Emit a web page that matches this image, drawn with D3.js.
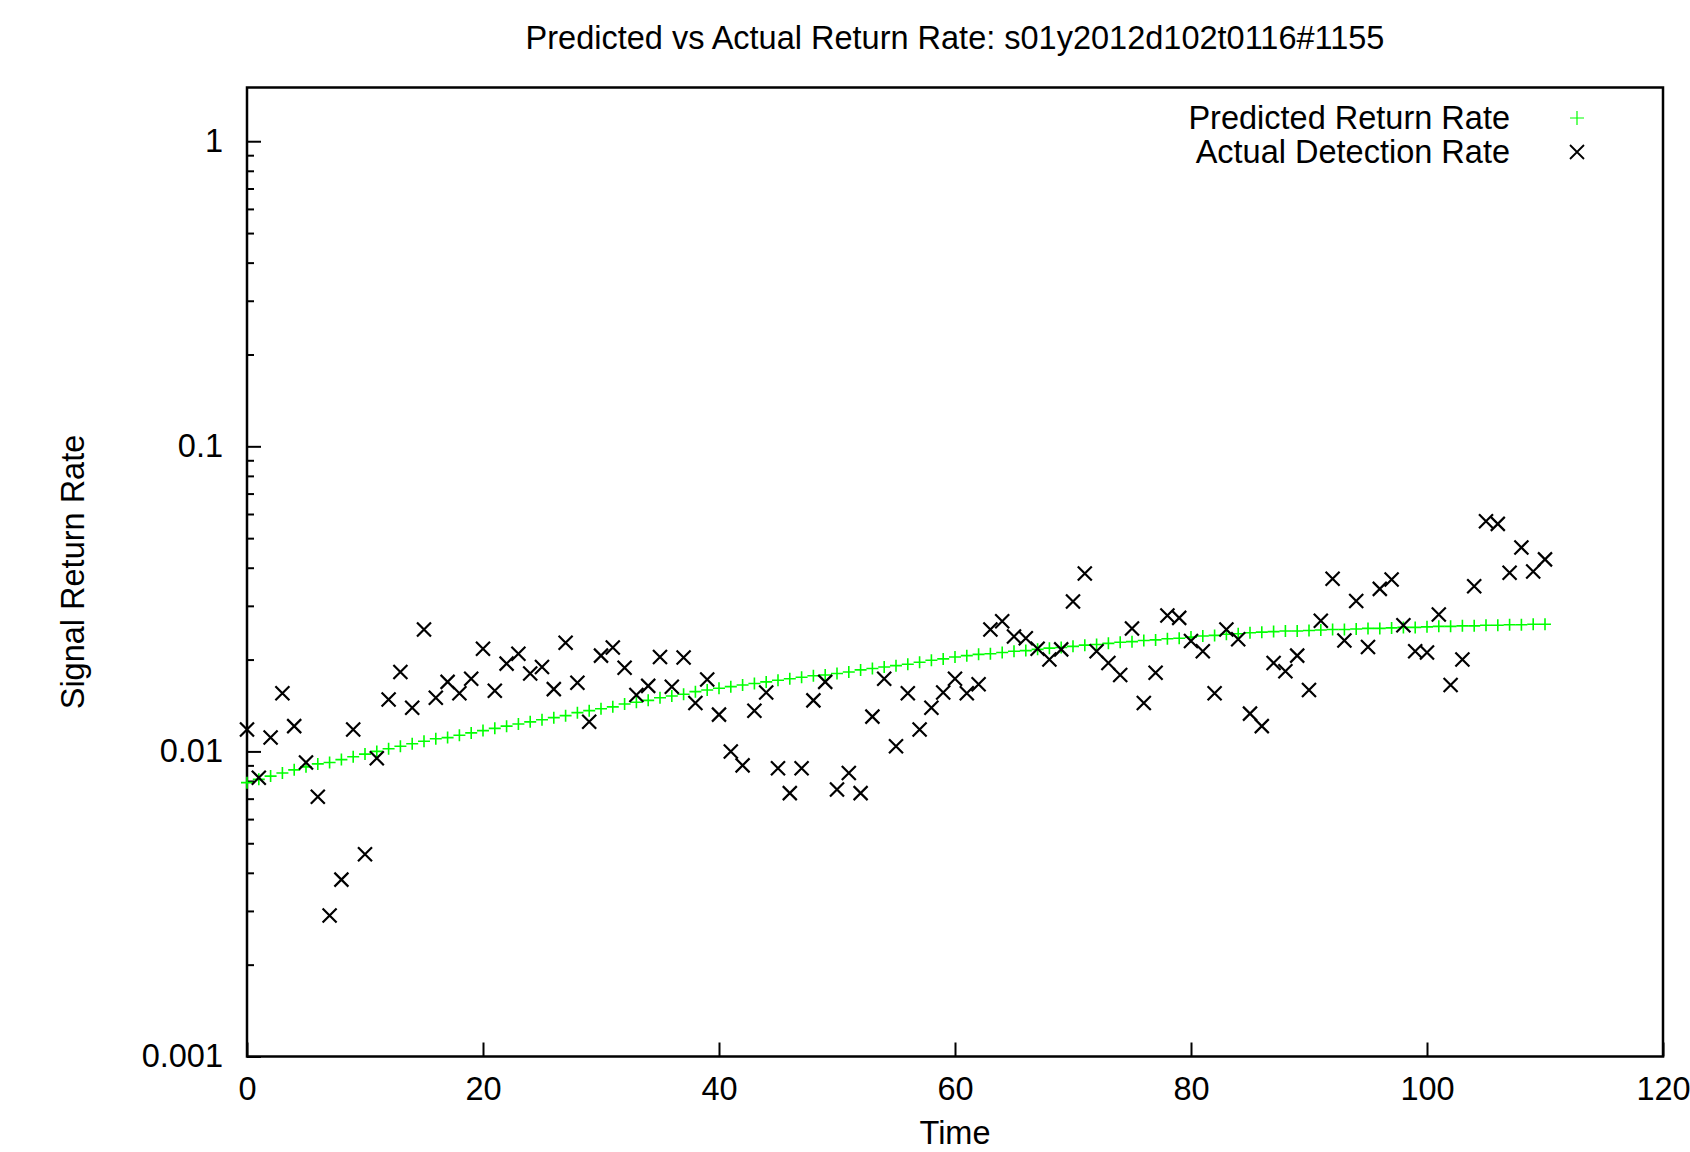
<!DOCTYPE html>
<html>
<head>
<meta charset="utf-8">
<script src="https://cdn.jsdelivr.net/npm/d3@7"></script>
<style>
  body { margin: 0; background: #fff; }
  text { font-family: "Liberation Sans", Arial, sans-serif; fill: #000; }
</style>
</head>
<body>
<div id="chart-area"></div>
<script>
const times = [
  0, 1, 2, 3, 4, 5, 6, 7, 8, 9,
  10, 11, 12, 13, 14, 15, 16, 17, 18, 19,
  20, 21, 22, 23, 24, 25, 26, 27, 28, 29,
  30, 31, 32, 33, 34, 35, 36, 37, 38, 39,
  40, 41, 42, 43, 44, 45, 46, 47, 48, 49,
  50, 51, 52, 53, 54, 55, 56, 57, 58, 59,
  60, 61, 62, 63, 64, 65, 66, 67, 68, 69,
  70, 71, 72, 73, 74, 75, 76, 77, 78, 79,
  80, 81, 82, 83, 84, 85, 86, 87, 88, 89,
  90, 91, 92, 93, 94, 95, 96, 97, 98, 99,
  100, 101, 102, 103, 104, 105, 106, 107, 108, 109,
  110
];

const predicted = [
  0.0079, 0.0081, 0.0083, 0.0085, 0.0087, 0.0089, 0.0091, 0.0092, 0.0094, 0.0096,
  0.0098, 0.0100, 0.0102, 0.0104, 0.0106, 0.0108, 0.0110, 0.0111, 0.0113, 0.0115,
  0.0117, 0.0119, 0.0121, 0.0123, 0.0125, 0.0127, 0.0129, 0.0131, 0.0134, 0.0136,
  0.0138, 0.0140, 0.0143, 0.0145, 0.0147, 0.0150, 0.0152, 0.0154, 0.0157, 0.0159,
  0.0161, 0.0163, 0.0165, 0.0167, 0.0169, 0.0171, 0.0173, 0.0175, 0.0177, 0.0178,
  0.0180, 0.0182, 0.0185, 0.0187, 0.0189, 0.0191, 0.0193, 0.0196, 0.0199, 0.0201,
  0.0204, 0.0206, 0.0208, 0.0209, 0.0211, 0.0213, 0.0214, 0.0216, 0.0218, 0.0219,
  0.0221, 0.0223, 0.0224, 0.0226, 0.0228, 0.0229, 0.0231, 0.0232, 0.0234, 0.0235,
  0.0237, 0.0239, 0.0240, 0.0242, 0.0243, 0.0245, 0.0246, 0.0247, 0.0248, 0.0248,
  0.0249, 0.0250, 0.0251, 0.0251, 0.0252, 0.0253, 0.0253, 0.0254, 0.0255, 0.0255,
  0.0256, 0.0257, 0.0257, 0.0258, 0.0258, 0.0259, 0.0259, 0.0260, 0.0260, 0.0261,
  0.0261
];

const actual = [
  0.0118, 0.0082, 0.0111, 0.0155, 0.0121, 0.0092, 0.0071, 0.0029, 0.0038, 0.0118,
  0.0046, 0.0095, 0.0148, 0.0182, 0.0139, 0.0251, 0.0150, 0.0169, 0.0155, 0.0173,
  0.0217, 0.0158, 0.0194, 0.0209, 0.0180, 0.0189, 0.0160, 0.0227, 0.0168, 0.0125,
  0.0206, 0.0219, 0.0188, 0.0153, 0.0164, 0.0204, 0.0163, 0.0203, 0.0144, 0.0172,
  0.0132, 0.0100, 0.0090, 0.0136, 0.0156, 0.0088, 0.0073, 0.0088, 0.0147, 0.0169,
  0.0075, 0.0085, 0.0073, 0.0130, 0.0173, 0.0104, 0.0155, 0.0118, 0.0139, 0.0156,
  0.0173, 0.0155, 0.0166, 0.0251, 0.0267, 0.0238, 0.0235, 0.0217, 0.0200, 0.0216,
  0.0310, 0.0383, 0.0213, 0.0195, 0.0178, 0.0253, 0.0144, 0.0181, 0.0279, 0.0274,
  0.0230, 0.0213, 0.0155, 0.0251, 0.0233, 0.0133, 0.0121, 0.0195, 0.0183, 0.0206,
  0.0159, 0.0268, 0.0368, 0.0231, 0.0311, 0.0220, 0.0341, 0.0366, 0.0259, 0.0213,
  0.0211, 0.0281, 0.0165, 0.0200, 0.0348, 0.0568, 0.0557, 0.0385, 0.0466, 0.0389,
  0.0426
];

const xTicks = [0, 20, 40, 60, 80, 100, 120];
const yTicks = [0.001, 0.01, 0.1, 1];
const yLabels = ["0.001", "0.01", "0.1", "1"];
const seriesNames = ["Predicted Return Rate", "Actual Detection Rate"];
const titleText = "Predicted vs Actual Return Rate: s01y2012d102t0116#1155";

const fontSize = "32.5px";

const margins = { top: 87.5, right: 27, bottom: 95.5, left: 247 };
const canvas_dims = { width: 1690, height: 1152 };
const content_dims = {
  width: canvas_dims.width - margins.left - margins.right,
  height: canvas_dims.height - margins.top - margins.bottom
};

const svg = d3
  .select("#chart-area")
  .append("svg")
  .attr("width", canvas_dims.width)
  .attr("height", canvas_dims.height);

svg.append("rect")
  .attr("width", canvas_dims.width)
  .attr("height", canvas_dims.height)
  .attr("fill", "#fff");

const group = svg
  .append("g")
  .attr("transform", `translate(${margins.left},${margins.top})`);

const scales = {
  x: d3.scaleLinear().domain([0, 120]).range([0, content_dims.width]),
  y: d3.scaleLog().domain([0.001, 1.5]).range([content_dims.height, 0])
};

// minor ticks on the log axis: 2..9 of each decade
const yMinor = [];
[0.001, 0.01, 0.1, 1].forEach(d => {
  for (let k = 2; k <= 9; k++) {
    if (d * k <= 1.5) yMinor.push(d * k);
  }
});

// axes
const yAxisMinor = d3.axisLeft(scales.y)
  .tickValues(yMinor)
  .tickSizeInner(-7)
  .tickSizeOuter(0)
  .tickFormat("");
group.append("g").attr("class", "left minor axis").call(yAxisMinor);

const yAxis = d3.axisLeft(scales.y)
  .tickValues(yTicks)
  .tickSizeInner(-14)
  .tickSizeOuter(0)
  .tickPadding(24)
  .tickFormat((d, i) => yLabels[i]);
group.append("g").attr("class", "left axis").call(yAxis);

const xAxis = d3.axisBottom(scales.x)
  .tickValues(xTicks)
  .tickSizeInner(-14)
  .tickSizeOuter(0)
  .tickPadding(20)
  .tickFormat(d3.format("d"));
group.append("g")
  .attr("class", "bottom axis")
  .attr("transform", `translate(0,${content_dims.height})`)
  .call(xAxis);

group.selectAll(".axis .domain").remove();
group.selectAll(".axis line").attr("stroke", "#000").attr("stroke-width", 2);
group.selectAll(".axis text")
  .attr("font-size", fontSize)
  .attr("font-family", "Liberation Sans, Arial, sans-serif")
  .attr("fill", "#000");

// plot border
group.append("rect")
  .attr("width", content_dims.width)
  .attr("height", content_dims.height)
  .attr("fill", "none")
  .attr("stroke", "#000")
  .attr("stroke-width", 2.5);

// markers
const plusPath = s => `M${-s},0L${s},0M0,${-s}L0,${s}`;
const timesPath = s => `M${-s},${-s}L${s},${s}M${-s},${s}L${s},${-s}`;

const predData = times.map((t, i) => ({ t, v: predicted[i] }));
const actData = times.map((t, i) => ({ t, v: actual[i] }));

group.selectAll(".pred")
  .data(predData)
  .enter()
  .append("path")
  .attr("class", "pred")
  .attr("d", plusPath(6))
  .attr("transform", d => `translate(${scales.x(d.t)},${scales.y(d.v)})`)
  .attr("stroke", "#00ff00")
  .attr("stroke-width", 1.6)
  .attr("fill", "none");

group.selectAll(".act")
  .data(actData)
  .enter()
  .append("path")
  .attr("class", "act")
  .attr("d", timesPath(7))
  .attr("transform", d => `translate(${scales.x(d.t)},${scales.y(d.v)})`)
  .attr("stroke", "#000")
  .attr("stroke-width", 2.2)
  .attr("fill", "none");

// legend
const legend = svg.append("g").attr("class", "legend");
const legendRows = [
  { name: seriesNames[0], y: 118, path: plusPath(7), color: "#00ff00", w: 1.2 },
  { name: seriesNames[1], y: 152, path: timesPath(7), color: "#000", w: 1.8 }
];
legendRows.forEach(r => {
  legend.append("text")
    .attr("x", 1510)
    .attr("y", r.y)
    .attr("dy", "0.35em")
    .attr("text-anchor", "end")
    .attr("font-size", fontSize)
    .text(r.name);
  legend.append("path")
    .attr("d", r.path)
    .attr("transform", `translate(1577,${r.y})`)
    .attr("stroke", r.color)
    .attr("stroke-width", r.w)
    .attr("fill", "none");
});

// title
svg.append("text")
  .attr("x", margins.left + content_dims.width / 2)
  .attr("y", 49)
  .attr("text-anchor", "middle")
  .attr("font-size", fontSize)
  .text(titleText);

// y axis-label
svg.append("text")
  .attr("transform", `translate(84,${margins.top + content_dims.height / 2}) rotate(-90)`)
  .attr("text-anchor", "middle")
  .attr("font-size", fontSize)
  .text("Signal Return Rate");

// x axis-label
svg.append("text")
  .attr("x", margins.left + content_dims.width / 2)
  .attr("y", 1144)
  .attr("text-anchor", "middle")
  .attr("font-size", fontSize)
  .text("Time");
</script>
</body>
</html>
